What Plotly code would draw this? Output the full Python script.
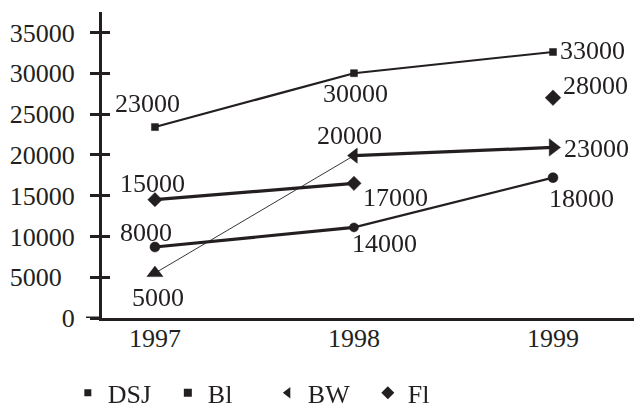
import plotly.graph_objects as go

# ---- data ----
years = ["1997", "1998", "1999"]

dsj_values = [23400, 30000, 32600]
dsj_labels = ["23000", "30000", "33000"]

fl_values = [14500, 16500, 27000]
fl_labels = ["15000", "17000", "28000"]

bw_values = [5500, 19900, 20900]
bw_labels = ["5000", "20000", "23000"]

bl_values = [8700, 11100, 17200]
bl_labels = ["8000", "14000", "18000"]

y_ticks = [0, 5000, 10000, 15000, 20000, 25000, 30000, 35000]
y_tick_text = ["0", "5000\u00a0\u00a0", "10000", "15000", "20000", "25000",
               "30000", "35000"]
legend_names = ["DSJ", "Bl", "BW", "Fl"]

# ---- style ----
INK = "#231f20"
FONT = "Liberation Serif, Times New Roman, serif"
FS = 26

series = [
    dict(v=dsj_values, t=dsj_labels, seg_w=[2.2, 2.0],
         sym=["square"] * 3, size=[7, 7, 7],
         dx=[-7, 2, 39], dy=[-24, 20, -1]),
    dict(v=fl_values, t=fl_labels, seg_w=[3.2, 0],
         sym=["diamond"] * 3, size=[11, 11, 12],
         dx=[-2, 42, 42], dy=[-16, 14, -12]),
    dict(v=bw_values, t=bw_labels, seg_w=[0.9, 3.2],
         sym=["triangle-up", "triangle-left", "triangle-right"], size=[14, 13, 15],
         dx=[3, -4, 43], dy=[24, -20, 1]),
    dict(v=bl_values, t=bl_labels, seg_w=[3.2, 2.2],
         sym=["circle"] * 3, size=[10, 9, 10],
         dx=[-9, 31, 28], dy=[-15, 16, 21]),
]

fig = go.Figure()
annotations = []

for s in series:
    for i in range(len(years) - 1):
        w = s["seg_w"][i]
        if w > 0:
            fig.add_trace(go.Scatter(
                x=years[i:i + 2], y=s["v"][i:i + 2], mode="lines",
                line=dict(color=INK, width=w), showlegend=False,
                hoverinfo="skip", cliponaxis=False))
    fig.add_trace(go.Scatter(
        x=years, y=s["v"], mode="markers",
        marker=dict(color=INK, symbol=s["sym"], size=s["size"], opacity=1,
                    line=dict(color=INK, width=0.5)),
        showlegend=False, cliponaxis=False))
    # category axis: annotations use the category's serial index
    for idx, (yv, tv, dx, dy) in enumerate(zip(s["v"], s["t"], s["dx"], s["dy"])):
        annotations.append(dict(
            x=idx, y=yv, text=tv, showarrow=False, xanchor="center",
            yanchor="middle", xshift=dx, yshift=-dy,
            font=dict(family=FONT, size=FS, color=INK)))

legend_syms = ["square", "square", "triangle-left", "diamond"]
legend_sizes = [7, 8, 10, 10]
for name, sym, sz in zip(legend_names, legend_syms, legend_sizes):
    fig.add_trace(go.Scatter(
        x=[None], y=[None], mode="markers", name=name,
        marker=dict(color=INK, symbol=sym, size=sz, opacity=1)))

# hidden copy on the overlay axis so its inward ticks get drawn
fig.add_trace(go.Scatter(x=years, y=dsj_values, yaxis="y2", showlegend=False,
                         mode="markers", opacity=0, hoverinfo="skip"))

yr = [0, 37500]
fig.update_layout(
    width=634, height=408,
    margin=dict(l=102, r=0, t=12, b=90, autoexpand=False),
    paper_bgcolor="white", plot_bgcolor="white",
    font=dict(family=FONT, size=FS, color=INK),
    showlegend=True,
    legend=dict(orientation="h", xref="container", yref="container",
                x=0.107, xanchor="left", y=0.037, yanchor="middle",
                font=dict(family=FONT, size=FS, color=INK),
                itemwidth=30, entrywidth=55, entrywidthmode="pixels",
                tracegroupgap=0, bgcolor="rgba(0,0,0,0)"),
    xaxis=dict(type="category", range=[-0.266, 2.407], showgrid=False,
               zeroline=False, showline=True, linecolor=INK, linewidth=3,
               ticks="", ticklabelstandoff=-5, automargin=False,
               tickfont=dict(family=FONT, size=FS, color=INK)),
    yaxis=dict(range=yr, tickvals=y_ticks, ticktext=y_tick_text,
               showgrid=False, zeroline=False, showline=True, linecolor=INK,
               linewidth=3, ticks="outside", ticklen=9, tickwidth=3,
               tickcolor=INK, ticklabelstandoff=10, automargin=False,
               tickfont=dict(family=FONT, size=FS, color=INK)),
    yaxis2=dict(range=yr, overlaying="y", side="left", anchor="x",
                tickvals=y_ticks, showticklabels=False, showgrid=False,
                zeroline=False, showline=False, ticks="inside", ticklen=8,
                tickwidth=3, tickcolor=INK, automargin=False),
    shapes=[dict(type="line", xref="paper", yref="y", x0=-0.03, x1=0,
                 y0=0, y1=0, line=dict(color=INK, width=3))],
    annotations=annotations,
)

fig.write_html(
    "out.html",
    config={"displayModeBar": False},
    post_script="document.body.style.margin='0';document.body.style.padding='0';",
)
